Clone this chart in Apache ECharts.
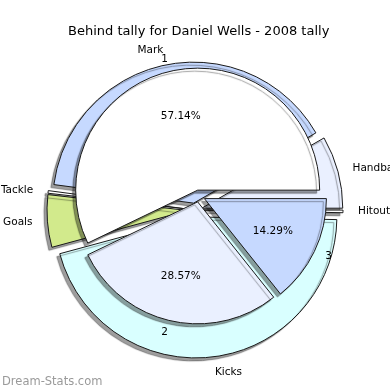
<!DOCTYPE html>
<html>
<head>
<meta charset="utf-8">
<script src="https://cdn.jsdelivr.net/npm/echarts@6/dist/echarts.min.js"></script>
<style>
html,body{margin:0;padding:0;background:#fff;}
#chart{width:390px;height:390px;}
</style>
</head>
<body>
<div id="chart"></div>
<script>
// Outer pie: behind tally share by type (read as share of the circle, %)
const outerCategories = ['Handball', 'Mark', 'Tackle', 'Goals', 'Kicks', 'Hitout'];
const outerValues = [8.3, 39.6, 0.3, 6.0, 45.5, 0.3];
const outerColors = ['#eaf0ff', '#c6d9ff', '#ffffff', '#d2ea8c', '#d9ffff', '#ffffff'];

// Inner pie: tally counts with labels 1,2,3
const innerLabels = ['1', '2', '3'];
const innerValues = [4, 2, 1];
const innerColors = ['#ffffff', '#eaf0ff', '#c6d9ff'];

const FONT = 'DejaVu Sans';
const shadowStyle = {
  borderColor: '#1a1a1a',
  borderWidth: 1,
  shadowColor: 'rgba(0,0,0,0.38)',
  shadowBlur: 1,
  shadowOffsetX: -3,
  shadowOffsetY: 3
};

const chart = echarts.init(document.getElementById('chart'), null, {renderer: 'canvas'});
chart.setOption({
  animation: false,
  backgroundColor: '#ffffff',
  title: [{
    text: 'Behind tally for Daniel Wells - 2008 tally',
    left: 63,
    top: 20,
    textStyle: {fontFamily: FONT, fontSize: 13, fontWeight: 'normal', color: '#000'}
  }, {
    text: 'Dream-Stats.com',
    left: -3,
    top: 371,
    textStyle: {fontFamily: FONT, fontSize: 11.5, fontWeight: 'normal', color: '#9a9a9a'}
  }],
  series: [{
    type: 'pie',
    center: [195, 210],
    radius: [0, 141],
    startAngle: 0,
    clockwise: false,
    avoidLabelOverlap: false,
    selectedMode: 'multiple',
    selectedOffset: 7,
    silent: true,
    labelLayout: {hideOverlap: false},
    label: {
      position: 'outside',
      fontFamily: FONT, fontSize: 10.5, color: '#000',
      distanceToLabelLine: 0
    },
    labelLine: {show: false, length: 15, length2: 0},
    itemStyle: shadowStyle,
    data: outerCategories.map((n, i) => ({
      name: n, value: outerValues[i], selected: true,
      itemStyle: {color: outerColors[i]}
    }))
  }, {
    type: 'pie',
    center: [199, 196],
    radius: [0, 122],
    startAngle: 0,
    clockwise: false,
    avoidLabelOverlap: false,
    selectedMode: 'multiple',
    selectedOffset: 6,
    silent: true,
    labelLayout: {hideOverlap: false},
    label: {
      position: 'outside',
      fontFamily: FONT, fontSize: 10.5, color: '#000',
      distanceToLabelLine: 0,
      align: 'center'
    },
    labelLine: {show: false, length: 12, length2: 0},
    itemStyle: shadowStyle,
    data: innerLabels.map((n, i) => ({
      name: n, value: innerValues[i], selected: true,
      itemStyle: {color: innerColors[i]}
    }))
  }, {
    type: 'pie',
    center: [199, 196],
    radius: [0, 146],
    startAngle: 0,
    clockwise: false,
    avoidLabelOverlap: false,
    selectedMode: 'multiple',
    selectedOffset: 6,
    silent: true,
    labelLayout: {hideOverlap: false},
    label: {
      show: true,
      position: 'inside',
      formatter: '{d}%',
      fontFamily: FONT, fontSize: 10.5, color: '#000'
    },
    labelLine: {show: false},
    itemStyle: {color: 'rgba(255,255,255,0.002)', borderWidth: 0},
    data: innerLabels.map((n, i) => ({
      name: 'p' + n, value: innerValues[i], selected: true
    }))
  }]
});
</script>
</body>
</html>
